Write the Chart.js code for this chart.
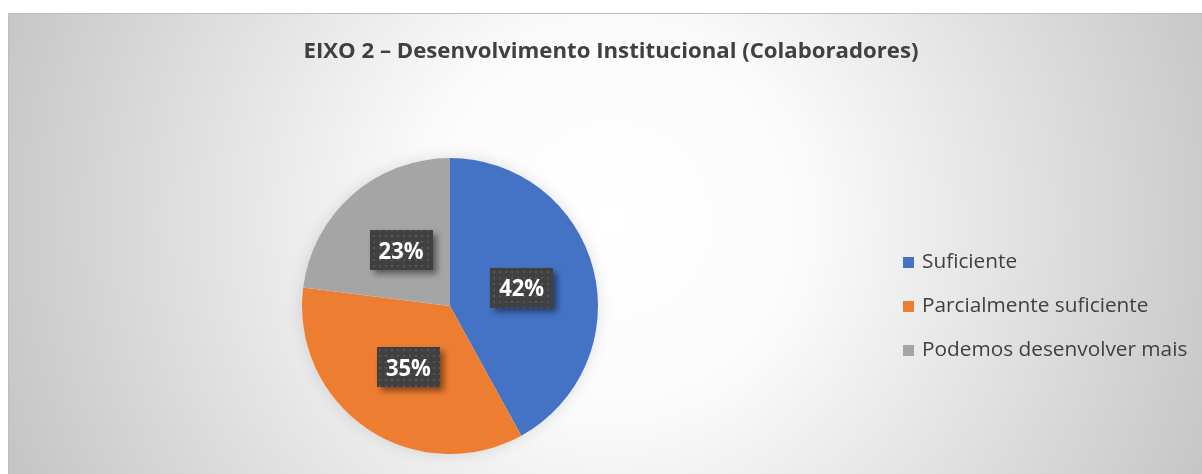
<!DOCTYPE html>
<html>
<head>
<meta charset="utf-8">
<script src="https://cdn.jsdelivr.net/npm/chart.js@4.4.1/dist/chart.umd.min.js"></script>
<style>
html,body{margin:0;padding:0;background:#fff;}
#wrap{position:relative;width:1202px;height:474px;}
</style>
</head>
<body>
<div id="wrap"><canvas id="c" width="1202" height="474"></canvas></div>
<script>
const title = "EIXO 2 – Desenvolvimento Institucional (Colaboradores)";
const categories = ["Suficiente", "Parcialmente suficiente", "Podemos desenvolver mais"];
const values = [42, 35, 23];
const colors = ["#4472C4", "#ED7D31", "#A5A5A5"];

const FONT = "'Open Sans', 'Liberation Sans', sans-serif";

function makePattern(ctx) {
  const p = document.createElement('canvas');
  p.width = 6; p.height = 6;
  const pc = p.getContext('2d');
  pc.fillStyle = '#404040';
  pc.fillRect(0, 0, 6, 6);
  pc.fillStyle = '#565656';
  pc.fillRect(1, 1, 2, 2);
  return ctx.createPattern(p, 'repeat');
}

function fitText(ctx, text, x, y, font, targetW) {
  ctx.font = font;
  const w = ctx.measureText(text).width;
  const s = targetW / w;
  ctx.save();
  ctx.translate(x, y);
  ctx.scale(s, 1);
  ctx.fillText(text, 0, 0);
  ctx.restore();
}

const bgPlugin = {
  id: 'bg',
  beforeDraw(chart) {
    const ctx = chart.ctx;
    ctx.save();
    ctx.fillStyle = '#ffffff';
    ctx.fillRect(0, 0, chart.width, chart.height);
    const g = ctx.createRadialGradient(612, 220, 0, 612, 220, 640);
    g.addColorStop(0, '#ffffff');
    g.addColorStop(0.3, '#fbfbfb');
    g.addColorStop(1, '#c6c6c6');
    ctx.fillStyle = g;
    ctx.fillRect(8, 13, chart.width - 8, chart.height - 13);
    ctx.strokeStyle = '#bdbdbd';
    ctx.lineWidth = 1;
    ctx.beginPath();
    ctx.moveTo(8.5, chart.height);
    ctx.lineTo(8.5, 13.5);
    ctx.lineTo(chart.width, 13.5);
    ctx.stroke();
    // title
    ctx.fillStyle = '#404040';
    ctx.textAlign = 'center';
    ctx.textBaseline = 'alphabetic';
    fitText(ctx, title, 611, 58, "bold 21.5px " + FONT, 615);
    ctx.restore();
  },
  beforeDatasetsDraw(chart) {
    const meta = chart.getDatasetMeta(0);
    const arc = meta.data[0];
    if (!arc) return;
    const ctx = chart.ctx;
    ctx.save();
    ctx.shadowColor = 'rgba(0,0,0,0.12)';
    ctx.shadowBlur = 16;
    ctx.fillStyle = '#ffffff';
    ctx.beginPath();
    ctx.arc(arc.x, arc.y, arc.outerRadius, 0, Math.PI * 2);
    ctx.fill();
    ctx.restore();
  },
  afterDatasetsDraw(chart) {
    const ctx = chart.ctx;
    const meta = chart.getDatasetMeta(0);
    const total = values.reduce((a, b) => a + b, 0);
    const pat = makePattern(ctx);
    ctx.save();
    meta.data.forEach((arc, i) => {
      const mid = (arc.startAngle + arc.endAngle) / 2;
      const r = arc.outerRadius * 0.5;
      const cx = arc.x + Math.cos(mid) * r;
      const cy = arc.y + Math.sin(mid) * r;
      const txt = Math.round(values[i] / total * 100) + '%';
      const bw = 63, bh = 40;
      ctx.save();
      ctx.shadowColor = 'rgba(0,0,0,0.45)';
      ctx.shadowBlur = 6;
      ctx.shadowOffsetX = 4;
      ctx.shadowOffsetY = 4;
      ctx.fillStyle = pat;
      ctx.fillRect(Math.round(cx - bw / 2), Math.round(cy - bh / 2), bw, bh);
      ctx.restore();
      ctx.fillStyle = '#ffffff';
      ctx.textAlign = 'center';
      ctx.textBaseline = 'alphabetic';
      fitText(ctx, txt, cx, cy + 8.5, "bold 23px " + FONT, 45);
    });
    // legend
    const lx = 903, ly0 = 262.5, dy = 44;
    categories.forEach((c, i) => {
      const y = ly0 + i * dy;
      ctx.fillStyle = colors[i];
      ctx.fillRect(lx, y - 5.5, 11, 11);
      ctx.fillStyle = '#404040';
      ctx.font = "20.8px " + FONT;
      ctx.textAlign = 'left';
      ctx.textBaseline = 'middle';
      ctx.fillText(c, lx + 19, y);
    });
    ctx.restore();
  }
};

new Chart(document.getElementById('c'), {
  type: 'pie',
  data: {
    labels: categories,
    datasets: [{
      data: values,
      backgroundColor: colors,
      borderWidth: 0
    }]
  },
  options: {
    responsive: false,
    animation: false,
    layout: { padding: { left: 302, right: 604, top: 158, bottom: 20 } },
    plugins: { legend: { display: false }, tooltip: { enabled: false } }
  },
  plugins: [bgPlugin]
});
</script>
</body>
</html>
